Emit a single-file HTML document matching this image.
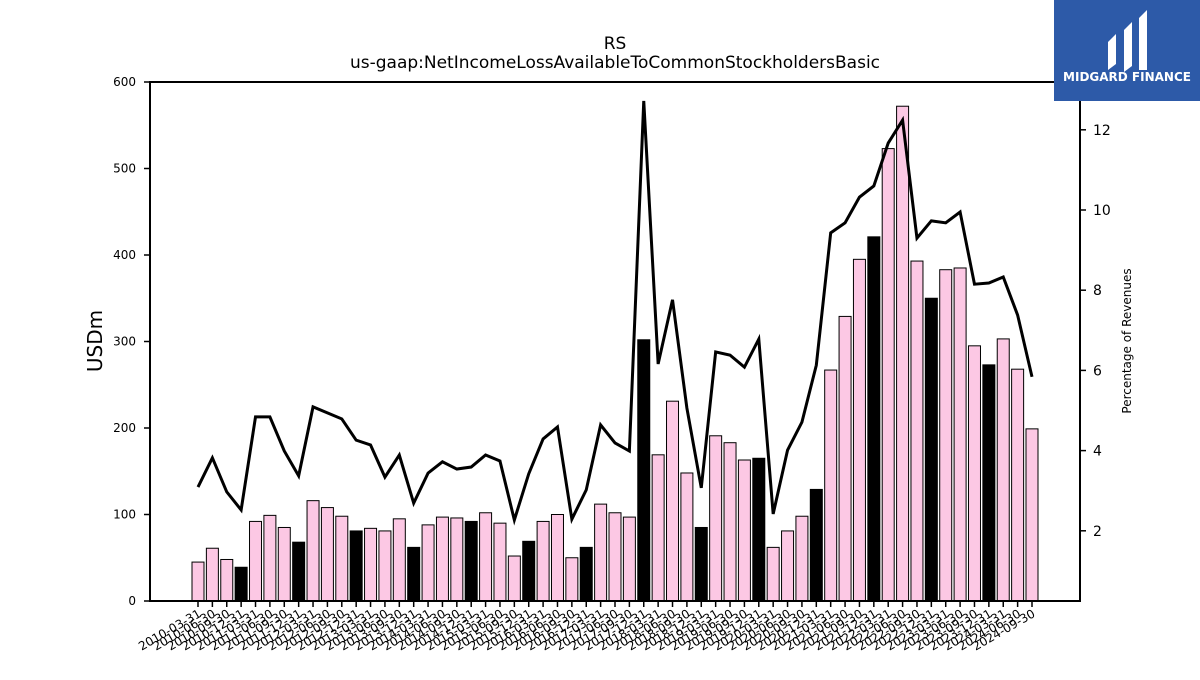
<!DOCTYPE html>
<html><head><meta charset="utf-8"><style>
body{margin:0;background:#fff;width:1200px;height:675px;overflow:hidden;font-family:"Liberation Sans","DejaVu Sans",sans-serif}
</style></head><body>
<svg id="chart" width="1200" height="675" xmlns="http://www.w3.org/2000/svg" font-family="DejaVu Sans, Liberation Sans, sans-serif">
<text x="615" y="49" text-anchor="middle" font-size="17">RS</text>
<text x="615" y="68" text-anchor="middle" font-size="17">us-gaap:NetIncomeLossAvailableToCommonStockholdersBasic</text>
<text transform="translate(102,341) rotate(-90)" text-anchor="middle" font-size="20">USDm</text>
<text transform="translate(1131,341) rotate(-90)" text-anchor="middle" font-size="12">Percentage of Revenues</text>
<g id="bars"></g><g id="xt"></g><g id="yl"></g><g id="yr"></g>
<path id="line" fill="none" stroke="#000" stroke-width="3"/>
<rect x="150" y="82" width="930" height="519" fill="none" stroke="#000" stroke-width="2"/>
<g>
<rect x="1054" y="0" width="146" height="101" fill="#2d5aa8"/>
<path d="M1108 42 L1116 34 L1116 64 L1108 70 Z M1124 30 L1132 22 L1132 66 L1124 72 Z M1139 18 L1147 10 L1147 70 L1139 70 Z" fill="#fff"/>
<text x="1127" y="81" text-anchor="middle" font-size="12" font-weight="bold" fill="#fff">MIDGARD FINANCE</text>
</g>
</svg>
<script>
const dates=[];for(let y=2010;y<=2024;y++)for(const q of["03-31","06-30","09-30","12-31"]){if(y===2024&&q==="12-31")break;dates.push(y+"-"+q);}
const values=[45,61,48,39,92,99,85,68,116,108,98,81,84,81,95,62,88,97,96,92,102,90,52,69,92,100,50,62,112,102,97,302,169,231,148,85,191,183,163,165,62,81,98,129,267,329,395,421,523,572,393,350,383,385,295,273,303,268,199];
const pct=[3.09,3.82,2.97,2.52,4.84,4.84,3.99,3.37,5.09,4.94,4.79,4.26,4.14,3.34,3.89,2.69,3.44,3.72,3.54,3.59,3.89,3.74,2.27,3.42,4.29,4.59,2.29,3.02,4.64,4.19,3.99,12.72,6.16,7.76,5.06,3.07,6.46,6.38,6.08,6.78,2.42,4.01,4.71,6.13,9.43,9.68,10.32,10.60,11.67,12.24,9.30,9.73,9.68,9.95,8.15,8.18,8.33,7.38,5.84];
const leftTicks=[0,100,200,300,400,500,600];
const rightTicks=[2,4,6,8,10,12];
const NS="http://www.w3.org/2000/svg";
const x=i=>198+i*(1032-198)/58;
const yL=v=>601-v*519/600;
const yR=v=>611-v*40.1;
function mk(t,a,p){const e=document.createElementNS(NS,t);for(const k in a)e.setAttribute(k,a[k]);p.appendChild(e);return e;}
const bars=document.getElementById('bars'),xt=document.getElementById('xt'),yl=document.getElementById('yl'),yr=document.getElementById('yr');
values.forEach((v,i)=>{
 const r=mk('rect',{x:x(i)-6,y:yL(v),width:12,height:601-yL(v),fill:dates[i].endsWith('12-31')?'#000':'#fcc8e4',stroke:'#000','stroke-width':1},bars);
 
 
 const tk=mk('line',{x1:x(i),x2:x(i),y1:601,y2:607,stroke:'#000','stroke-width':1.5},xt);
 
 
 const t=mk('text',{x:0,y:0,'font-size':12,'text-anchor':'end',transform:`translate(${x(i)+4},${616}) rotate(-30)`},xt);
 t.textContent=dates[i];
 
 
});
leftTicks.forEach(v=>{
 const l=mk('line',{x1:144,x2:150,y1:yL(v),y2:yL(v),stroke:'#000','stroke-width':1.5},yl);
 
 
 const t=mk('text',{x:136,y:yL(v)+4,'font-size':12,'text-anchor':'end'},yl);t.textContent=v;
 
 
});
rightTicks.forEach(v=>{
 const l=mk('line',{x1:1080,x2:1086,y1:yR(v),y2:yR(v),stroke:'#000','stroke-width':1.5},yr);
 
 
 const t=mk('text',{x:1093,y:yR(v)+5,'font-size':14},yr);t.textContent=v;
 
 
});
document.getElementById('line').setAttribute('d',pct.map((v,i)=>(i?'L':'M')+x(i)+' '+yR(v)).join(' '));
</script>
</body></html>
